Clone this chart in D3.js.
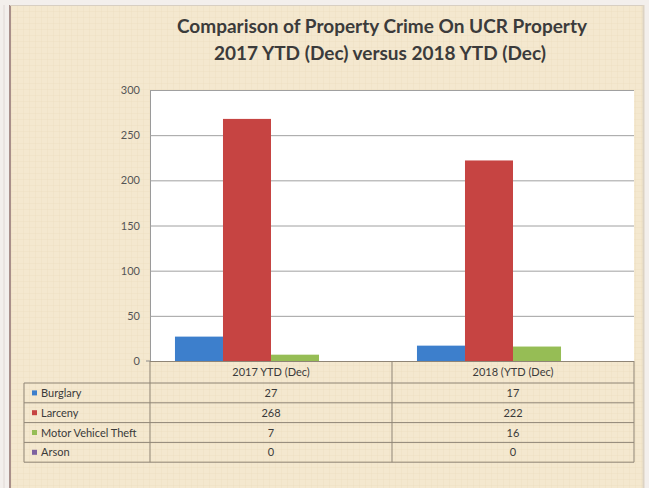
<!DOCTYPE html>
<html><head><meta charset="utf-8">
<script src="https://cdn.jsdelivr.net/npm/d3@7"></script>
<style>
html,body{margin:0;padding:0;background:#fff;}
svg{display:block;}
</style></head>
<body><svg id="c" width="649" height="488"></svg>
<script>
const titleLines = ["Comparison of Property Crime On UCR Property", "2017 YTD (Dec) versus 2018 YTD (Dec)"];
const categories = ["2017 YTD (Dec)", "2018 (YTD (Dec)"];
const seriesNames = ["Burglary", "Larceny", "Motor Vehicel Theft", "Arson"];
const burglary = [27, 17];
const larceny = [268, 222];
const motorVehicleTheft = [7, 16];
const arson = [0, 0];
const yTicks = [0, 50, 100, 150, 200, 250, 300];
const colors = ["#3d7fcc", "#c64442", "#96bd55", "#7e62a0"];

(function(){
const seriesValues = [burglary, larceny, motorVehicleTheft, arson];
const svg = d3.select("#c");
const font = "Lato, 'Open Sans', sans-serif";

// background
const defs = svg.append("defs");
const pat = defs.append("pattern").attr("id","grid").attr("width",6).attr("height",6).attr("patternUnits","userSpaceOnUse");
pat.append("rect").attr("width",6).attr("height",6).attr("fill","#f4e8cf");
pat.append("path").attr("d","M6 0 V6 M0 6 H6").attr("stroke","#ecdcbc").attr("stroke-width",0.6);
svg.append("rect").attr("x",0).attr("y",0).attr("width",649).attr("height",488).attr("fill","#f3efec");
svg.append("rect").attr("x",11).attr("y",6).attr("width",632).attr("height",482).attr("fill","url(#grid)");
svg.append("line").attr("x1",10).attr("x2",10).attr("y1",5).attr("y2",488).attr("stroke","#a88f8a").attr("stroke-width",2);
svg.append("line").attr("x1",10).attr("x2",644).attr("y1",5.5).attr("y2",5.5).attr("stroke","#d8cfc2").attr("stroke-width",1);
svg.append("line").attr("x1",643.5).attr("x2",643.5).attr("y1",5).attr("y2",488).attr("stroke","#ddd3c3").attr("stroke-width",2);
svg.append("line").attr("x1",4).attr("x2",4).attr("y1",5).attr("y2",488).attr("stroke","#e0d8d4").attr("stroke-width",1);

// title
svg.append("g").selectAll("text").data(titleLines).join("text")
  .attr("x",(d,i)=>i===0?382:380).attr("y",(d,i)=>33+i*27).attr("text-anchor","middle")
  .attr("font-family",font).attr("font-weight","bold").attr("font-size",19).attr("fill","#3b3b3b")
  .text(d=>d);

const pL=150, pR=634, pT=90, pB=361;
const y = d3.scaleLinear().domain([0,300]).range([pB,pT]);
const x0 = d3.scaleBand().domain(categories).range([pL,pR]).paddingInner(0).paddingOuter(0);
const x1 = d3.scaleBand().domain(seriesNames).range([0,x0.bandwidth()]).paddingOuter(0.52).paddingInner(0);

svg.append("rect").attr("x",pL).attr("y",pT).attr("width",pR-pL).attr("height",pB-pT).attr("fill","#fff");

// gridlines
const yAxis = d3.axisLeft(y).tickValues(yTicks).tickSize(-(pR-pL)).tickPadding(10);
const ga = svg.append("g").attr("transform",`translate(${pL},0)`).call(yAxis);
ga.select(".domain").attr("stroke","#9a9a9a");
ga.selectAll(".tick line").attr("stroke","#a0a0a0").attr("stroke-width",1);
ga.selectAll(".tick text").attr("font-family",font).attr("font-size",11).attr("fill","#555");
// small outer tick at zero
svg.append("line").attr("x1",pL-4).attr("x2",pL).attr("y1",y(0)).attr("y2",y(0)).attr("stroke","#8a8a8a");

// bars
const g = svg.append("g");
categories.forEach((c,ci)=>{
  seriesNames.forEach((s,si)=>{
    const v = seriesValues[si][ci];
    g.append("rect").attr("x",x0(c)+x1(s)).attr("y",y(v)).attr("width",x1.bandwidth()).attr("height",pB-y(v)).attr("fill",colors[si]);
  });
});

// table
const tLeft=24, rowH=19.8, hdrTop=361, hdrH=22;
const tg = svg.append("g");
const tableBottom = hdrTop+hdrH+rowH*seriesNames.length;
const lineColor="#8f8576";
const fs = 11;
tg.append("line").attr("x1",pL).attr("x2",pR).attr("y1",hdrTop+0.5).attr("y2",hdrTop+0.5).attr("stroke",lineColor);
tg.append("line").attr("x1",tLeft).attr("x2",pR).attr("y1",hdrTop+hdrH).attr("y2",hdrTop+hdrH).attr("stroke",lineColor);
seriesNames.forEach((s,i)=>{
  tg.append("line").attr("x1",tLeft).attr("x2",pR).attr("y1",hdrTop+hdrH+rowH*(i+1)).attr("y2",hdrTop+hdrH+rowH*(i+1)).attr("stroke",lineColor);
});
tg.append("line").attr("x1",tLeft).attr("x2",tLeft).attr("y1",hdrTop+hdrH).attr("y2",tableBottom).attr("stroke",lineColor);
[pL, x0(categories[1]), pR].forEach(xv=>{
  tg.append("line").attr("x1",xv).attr("x2",xv).attr("y1",hdrTop).attr("y2",tableBottom).attr("stroke",lineColor);
});
categories.forEach(c=>{
  tg.append("text").attr("x",x0(c)+x0.bandwidth()/2).attr("y",hdrTop+15).attr("text-anchor","middle")
    .attr("font-family",font).attr("font-size",fs).attr("fill","#3a3a3a").text(c);
});
seriesNames.forEach((s,i)=>{
  const cy = hdrTop+hdrH+rowH*i+rowH/2;
  tg.append("rect").attr("x",tLeft+8).attr("y",cy-2.5).attr("width",5).attr("height",5).attr("fill",colors[i]);
  tg.append("text").attr("x",tLeft+17).attr("y",cy+4).attr("font-family",font).attr("font-size",fs).attr("fill","#3a3a3a").text(s);
  categories.forEach((c,ci)=>{
    tg.append("text").attr("x",x0(c)+x0.bandwidth()/2).attr("y",cy+4).attr("text-anchor","middle")
      .attr("font-family",font).attr("font-size",fs).attr("fill","#3a3a3a").text(seriesValues[i][ci]);
  });
});
})();
</script></body></html>
